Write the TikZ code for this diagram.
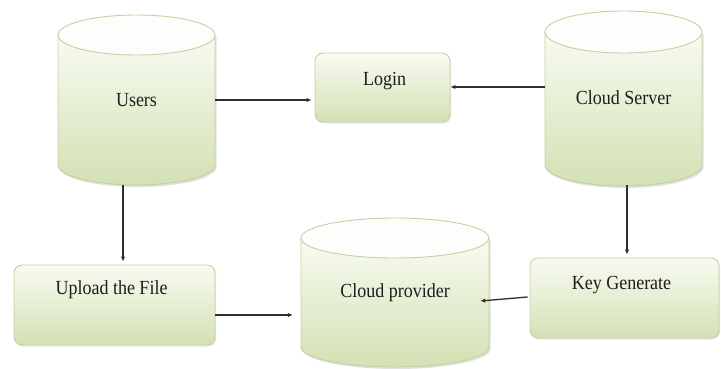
\documentclass[tikz,border=0pt]{standalone}
\usepackage{fontspec}
\setmainfont{Liberation Serif}
\usetikzlibrary{arrows.meta,shadows}

\definecolor{edgec}{HTML}{C3D1A2}
\definecolor{fillhi}{HTML}{F8FBF2}
\definecolor{filllo}{HTML}{D3E1B3}
\definecolor{topfill}{HTML}{FDFEFB}
\definecolor{arrc}{HTML}{2E2E2E}
\definecolor{txtc}{HTML}{1E1E1E}

% text set slightly narrow and tall
\newcommand\lbl[1]{\scalebox{0.9}[1]{#1}}

% cylinder: left, right, top centre, bottom centre, end radius (downward values)
\newcommand\drawcyl[5]{%
  \pgfmathsetmacro\cylcx{(#1+#2)/2}%
  \pgfmathsetmacro\cylrx{(#2-#1)/2}%
  \fill[black,opacity=0.12] (#1+1.5,-#3-2) -- (#1+1.5,-#4-2)
     arc[start angle=180,end angle=360,x radius=\cylrx pt,y radius=#5 pt]
     -- (#2+1.5,-#3-2) -- cycle;
  \shadedraw[top color=fillhi,bottom color=filllo,draw=edgec,line width=0.9pt]
     (#1,-#3) -- (#1,-#4)
     arc[start angle=180,end angle=360,x radius=\cylrx pt,y radius=#5 pt]
     -- (#2,-#3) -- cycle;
  \filldraw[fill=topfill,draw=edgec,line width=0.9pt]
     (\cylcx,-#3) ellipse[x radius=\cylrx pt,y radius=#5 pt];
}

\begin{document}
\begin{tikzpicture}[x=1pt,y=1pt,
  txt/.style={font=\fontsize{20}{22}\selectfont,text=txtc},
  cylnode/.style={inner sep=0pt,txt},
  box/.style={rounded corners=8pt,draw=edgec,line width=0.9pt,
    top color=fillhi,bottom color=filllo,
    drop shadow={opacity=0.18,shadow xshift=1.2pt,shadow yshift=-1.6pt}},
  arr/.style={draw=arrc,line width=1.3pt,-{Latex[length=5pt,width=4.5pt]}}]

\useasboundingbox (0,0) rectangle (721,-369);

% storage cylinders
\drawcyl{58}{215}{35}{165}{20}
\drawcyl{545}{702}{32}{165}{21}
\drawcyl{301}{489}{238}{347}{20}

\node[cylnode,minimum width=157pt,minimum height=170pt] (users) at (136.5,-100) {\lbl{Users}};
\node[cylnode,minimum width=157pt,minimum height=175pt] (cserver) at (623.5,-97.5) {\lbl{Cloud Server}};
\node[cylnode,minimum width=188pt,minimum height=149pt] (provider) at (395,-292.5)
  {\raisebox{-5pt}{\lbl{Cloud provider}}};

% process boxes
\node[box,minimum width=135pt,minimum height=69pt,
  label={[txt,yshift=6.5pt,xshift=2pt]center:\lbl{Login}}] (login) at (382.5,-87.5) {};
\node[box,minimum width=201pt,minimum height=80pt,
  label={[txt,yshift=15pt,xshift=-3pt]center:\lbl{Upload the File}}] (upload) at (114.5,-305) {};
\node[box,minimum width=189pt,minimum height=80pt,
  label={[txt,yshift=13pt,xshift=-3pt]center:\lbl{Key Generate}}] (keygen) at (624.5,-298) {};

% connector end points
\coordinate (upout) at ([yshift=-10pt]upload.east);
\coordinate (usdown) at ([xshift=-13.5pt]users.south);
\coordinate (csdown) at ([xshift=3.5pt]cserver.south);
\coordinate (login_in) at ([yshift=0.5pt]login.east);

% connectors
\draw[arr,shorten >=3pt] (users.east) -- (login.west |- users.east);
\draw[arr] (cserver.west |- login_in) -- (login_in);
\draw[arr,shorten >=3pt] (usdown) -- (usdown |- upload.north);
\draw[arr,shorten >=3pt] (csdown) -- (csdown |- keygen.north);
\draw[arr,shorten >=8pt] (upout) -- (provider.west |- upout);
\draw[arr] ([xshift=-2pt,yshift=1pt]keygen.west) -- ([xshift=-9pt,yshift=-8.5pt]provider.east);
\end{tikzpicture}
\end{document}
